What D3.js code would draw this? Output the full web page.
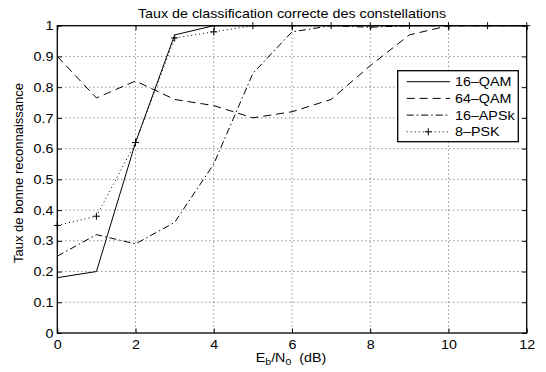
<!DOCTYPE html>
<html>
<head>
<meta charset="utf-8">
<script src="https://cdn.jsdelivr.net/npm/d3@7"></script>
<style>
  html, body { margin: 0; padding: 0; background: #fff; }
  svg { display: block; font-family: "Liberation Sans", Arial, Helvetica, sans-serif; }
</style>
</head>
<body>
<svg id="chart" width="546" height="372"></svg>
<script>
const snr = [0, 1, 2, 3, 4, 5, 6, 7, 8, 9, 10, 11, 12];
const qam16 = [0.18, 0.20, 0.62, 0.97, 1.00, 1.00, 1.00, 1.00, 1.00, 1.00, 1.00, 1.00, 1.00];
const qam64 = [0.90, 0.765, 0.82, 0.76, 0.74, 0.70, 0.72, 0.76, 0.87, 0.97, 1.00, 1.00, 1.00];
const apsk16 = [0.25, 0.32, 0.29, 0.36, 0.55, 0.845, 0.98, 1.00, 0.995, 1.00, 1.00, 1.00, 1.00];
const psk8 = [0.35, 0.38, 0.62, 0.96, 0.98, 1.00, 1.00, 1.00, 1.00, 1.00, 1.00, 1.00, 1.00];
const seriesNames = ["16–QAM", "64–QAM", "16–APSk", "8–PSK"];
const xTicks = [0, 2, 4, 6, 8, 10, 12];
const yTicks = [0, 0.1, 0.2, 0.3, 0.4, 0.5, 0.6, 0.7, 0.8, 0.9, 1];
const titleText = "Taux de classification correcte des constellations";
const yLabelText = "Taux de bonne reconnaissance";

const series = [
  { name: seriesNames[0], values: qam16, dash: null, marker: false },
  { name: seriesNames[1], values: qam64, dash: "8,5", marker: false },
  { name: seriesNames[2], values: apsk16, dash: "7,3,1.5,3", marker: false },
  { name: seriesNames[3], values: psk8, dash: "1,3", marker: true }
];

const svg = d3.select("#chart");
const L = 57.3, R = 526.7, T = 25.7, B = 333;
const x = d3.scaleLinear().domain([0, 12]).range([L, R]);
const y = d3.scaleLinear().domain([0, 1]).range([B, T]);
const fontSize = 13;
const sx = 1.1; // horizontal stretch of the reference's text
const stretch = "scale(" + sx + ",1)";

// grid
const grid = svg.append("g").attr("stroke", "#333").attr("stroke-width", 0.8).attr("stroke-dasharray", "1,3");
grid.selectAll("line.gx").data(xTicks.slice(1, -1)).join("line")
  .attr("x1", d => x(d)).attr("x2", d => x(d)).attr("y1", T).attr("y2", B);
grid.selectAll("line.gy").data(yTicks.slice(1, -1)).join("line")
  .attr("y1", d => y(d)).attr("y2", d => y(d)).attr("x1", L).attr("x2", R);

// axes (ticks inward)
const tickLen = 4.5;
const axB = svg.append("g").attr("transform", `translate(0,${B})`)
  .call(d3.axisBottom(x).tickValues(xTicks).tickSize(-tickLen).tickPadding(6.5).tickFormat(d3.format("d")));
const axT = svg.append("g").attr("transform", `translate(0,${T})`)
  .call(d3.axisTop(x).tickValues(xTicks).tickSize(-tickLen).tickFormat(""));
const axL = svg.append("g").attr("transform", `translate(${L},0)`)
  .call(d3.axisLeft(y).tickValues(yTicks).tickSize(-tickLen).tickPadding(3.6).tickFormat(d => String(+d.toFixed(1))));
const axR = svg.append("g").attr("transform", `translate(${R},0)`)
  .call(d3.axisRight(y).tickValues(yTicks).tickSize(-tickLen).tickFormat(""));
[axB, axT, axL, axR].forEach(g => {
  g.select(".domain").remove();
  g.selectAll(".tick line").attr("stroke", "#000");
  g.selectAll("text").attr("font-size", fontSize).attr("fill", "#000").attr("font-family", null)
    .attr("transform", stretch);
});

// lines
const line = d3.line().x((d, i) => x(snr[i])).y(d => y(d));
const lg = svg.append("g");
series.forEach(s => {
  lg.append("path").datum(s.values)
    .attr("d", line).attr("fill", "none").attr("stroke", "#000").attr("stroke-width", 1)
    .attr("stroke-dasharray", s.dash);
  if (s.marker) {
    const m = 3.5;
    lg.selectAll(null).data(s.values).join("path")
      .attr("d", (d, i) => `M${x(snr[i]) - m},${y(d)}H${x(snr[i]) + m}M${x(snr[i])},${y(d) - m}V${y(d) + m}`)
      .attr("stroke", "#000").attr("stroke-width", 1).attr("fill", "none");
  }
});

// box
svg.append("rect").attr("x", L).attr("y", T).attr("width", R - L).attr("height", B - T)
  .attr("fill", "none").attr("stroke", "#000").attr("stroke-width", 1.3);

// title
svg.append("text").attr("transform", `translate(${(L + R) / 2},17.5) ${stretch}`).attr("text-anchor", "middle")
  .attr("font-size", fontSize).text(titleText);

// x label with subscripts
const xl = svg.append("text").attr("transform", `translate(${(L + R) / 2 - 1},361.5) ${stretch}`)
  .attr("text-anchor", "middle").attr("font-size", fontSize);
xl.append("tspan").text("E");
xl.append("tspan").attr("font-size", 9.5).attr("dy", 3).text("b");
xl.append("tspan").attr("dy", -3).text("/N");
xl.append("tspan").attr("font-size", 9.5).attr("dy", 3).text("0");
xl.append("tspan").attr("dy", -3).text("\u00a0\u00a0(dB)");

// y label
svg.append("text").attr("transform", `translate(22.5,173) rotate(-90)`).attr("text-anchor", "middle")
  .attr("font-size", fontSize).text(yLabelText);

// legend
const lgX = 397.7, lgY = 70.7, lgW = 120.6, lgH = 71;
const leg = svg.append("g");
leg.append("rect").attr("x", lgX).attr("y", lgY).attr("width", lgW).attr("height", lgH)
  .attr("fill", "#fff").attr("stroke", "#000").attr("stroke-width", 1.3);
series.forEach((s, i) => {
  const cy = 81.7 + i * 16.7;
  leg.append("line").attr("x1", 406.7).attr("x2", 450).attr("y1", cy).attr("y2", cy)
    .attr("stroke", "#000").attr("stroke-width", 1).attr("stroke-dasharray", s.dash);
  if (s.marker) {
    const cx = 428.3, m = 3.5;
    leg.append("path").attr("d", `M${cx - m},${cy}H${cx + m}M${cx},${cy - m}V${cy + m}`)
      .attr("stroke", "#000").attr("stroke-width", 1);
  }
  leg.append("text").attr("transform", `translate(455,${cy}) ${stretch}`).attr("dy", "0.35em")
    .attr("font-size", fontSize).text(s.name);
});
</script>
</body>
</html>
